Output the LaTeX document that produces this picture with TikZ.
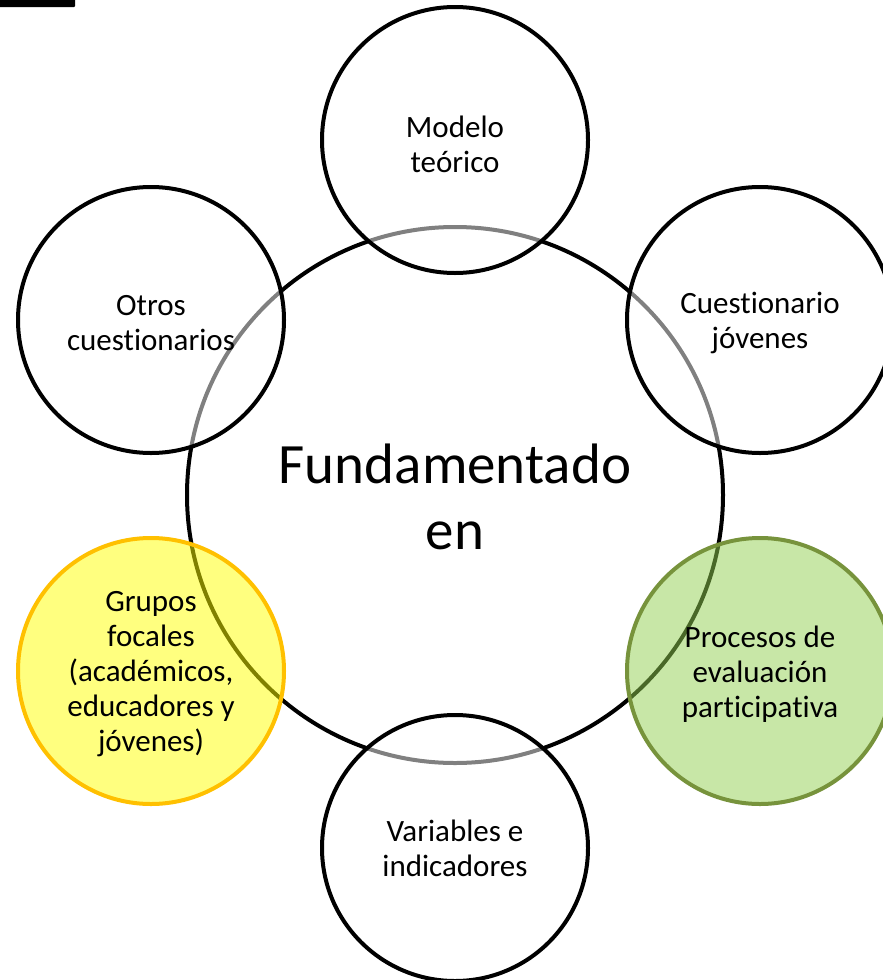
\documentclass[tikz,border=0pt]{standalone}
\usepackage{fontspec}
\setmainfont{Carlito}[RawFeature={-liga;-clig;-calt;-dlig}]
\definecolor{ylwfill}{HTML}{FFFF00}
\definecolor{ylwline}{HTML}{FFC000}
\definecolor{grnfill}{HTML}{92D050}
\definecolor{grnline}{HTML}{77933C}
\begin{document}
\begin{tikzpicture}[x=1pt,y=-1pt,
  hub/.style={circle, minimum size=536pt, inner sep=0pt, line width=4pt, draw=black},
  hubtext/.style={align=center, font=\fontsize{57}{66}\selectfont, inner sep=0pt},
  sat/.style={circle, minimum size=266pt, inner sep=0pt, line width=4pt, draw=black,
    fill=white, fill opacity=0.5},
  sattext/.style={align=center, inner sep=0pt, font=\fontsize{31}{35}\selectfont},
  yellowsat/.style={sat, fill=ylwfill, draw=ylwline},
  greensat/.style={sat, fill=grnfill, draw=grnline}]
\useasboundingbox (0,0) rectangle (883,980);
\clip (0,0) rectangle (883,980);
\fill[black, rounded corners=1pt] (-5,-5) rectangle (75,7);
\node[hub] (hub) at (455,495) {};
\node[sat] (modelo) at (455,140) {};
\node[sat] (otros) at (151,320) {};
\node[sat] (cuest) at (760,320) {};
\node[yellowsat] (grupos) at (151,671) {};
\node[greensat] (procesos) at (760,671) {};
\node[sat] (variables) at (455,848) {};
\node[hubtext] (hubt) at ([yshift=-2pt]hub.center) {Fundamentado\\en};
\node[sattext] (modelot) at ([yshift=-4pt]modelo.center) {Modelo\\teórico};
\node[sattext] (otrost) at ([yshift=-3pt]otros.center) {Otros\\cuestionarios};
\node[sattext] (cuestt) at ([yshift=-3pt]cuest.center) {Cuestionario\\jóvenes};
\node[sattext] (gruposT) at ([yshift=-3pt]grupos.center) {Grupos\\focales\\(académicos,\\educadores y\\jóvenes)};
\node[sattext] (procesost) at ([yshift=-3pt]procesos.center) {Procesos de\\evaluación\\participativa};
\node[sattext] (variablest) at ([yshift=0pt]variables.center) {Variables e\\indicadores};
\end{tikzpicture}
\end{document}
